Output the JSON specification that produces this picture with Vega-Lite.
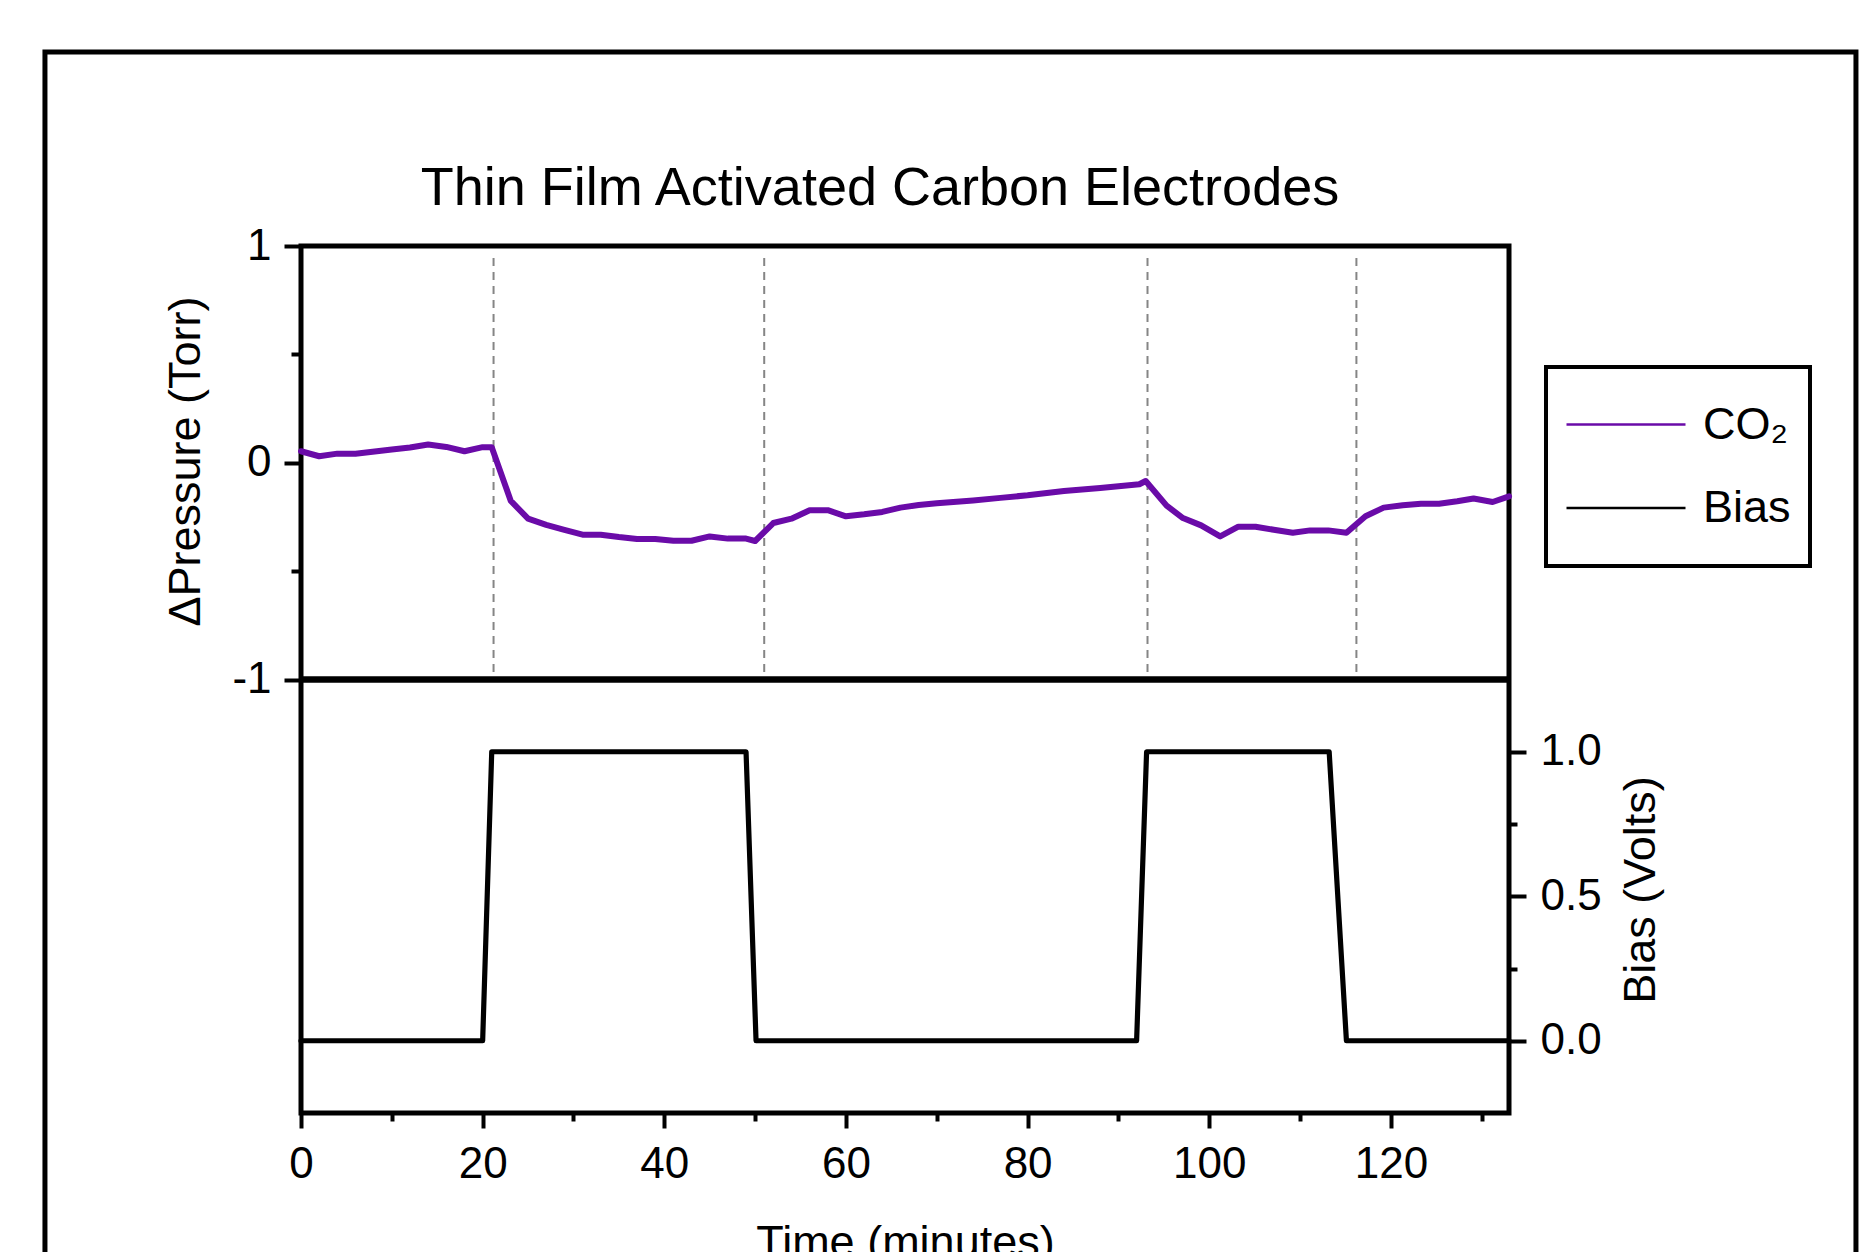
{
  "$schema": "https://vega.github.io/schema/vega-lite/v6.json",
  "autosize": {"type": "none"},
  "padding": {"left": 301, "top": 246, "right": 357, "bottom": 139},
  "width": 1208,
  "height": 867,
  "background": "white",
  "title": {
    "text": "Thin Film Activated Carbon Electrodes",
    "font": "Liberation Sans",
    "fontSize": 54,
    "fontWeight": "normal",
    "color": "black",
    "anchor": "middle",
    "frame": "group",
    "baseline": "alphabetic",
    "dx": -25,
    "offset": -209
  },
  "datasets": {
    "co2": [
      {"t": 0, "v": 0.053}, {"t": 2, "v": 0.03}, {"t": 4, "v": 0.042}, {"t": 6, "v": 0.042},
      {"t": 10, "v": 0.061}, {"t": 12, "v": 0.07}, {"t": 14, "v": 0.084}, {"t": 16, "v": 0.073},
      {"t": 18, "v": 0.053}, {"t": 20, "v": 0.072}, {"t": 21, "v": 0.072}, {"t": 23.1, "v": -0.176},
      {"t": 25, "v": -0.258}, {"t": 27, "v": -0.287}, {"t": 29, "v": -0.31}, {"t": 31, "v": -0.332},
      {"t": 33, "v": -0.332}, {"t": 35, "v": -0.343}, {"t": 37, "v": -0.352}, {"t": 39, "v": -0.352},
      {"t": 41, "v": -0.36}, {"t": 43, "v": -0.36}, {"t": 45, "v": -0.34}, {"t": 47, "v": -0.35},
      {"t": 49, "v": -0.35}, {"t": 50, "v": -0.361}, {"t": 52, "v": -0.278}, {"t": 54, "v": -0.258},
      {"t": 56, "v": -0.219}, {"t": 58, "v": -0.219}, {"t": 60, "v": -0.247}, {"t": 62, "v": -0.238},
      {"t": 64, "v": -0.227}, {"t": 66, "v": -0.207}, {"t": 68, "v": -0.195}, {"t": 70, "v": -0.187},
      {"t": 74, "v": -0.174}, {"t": 77, "v": -0.162}, {"t": 80, "v": -0.15}, {"t": 84, "v": -0.13},
      {"t": 88, "v": -0.116}, {"t": 92.3, "v": -0.099}, {"t": 93, "v": -0.084}, {"t": 95.3, "v": -0.198},
      {"t": 97.1, "v": -0.255}, {"t": 99.1, "v": -0.289}, {"t": 101.2, "v": -0.34}, {"t": 103.2, "v": -0.295},
      {"t": 105.1, "v": -0.295}, {"t": 107.1, "v": -0.309}, {"t": 109.2, "v": -0.323}, {"t": 111.1, "v": -0.312},
      {"t": 113.1, "v": -0.312}, {"t": 115.1, "v": -0.323}, {"t": 117.2, "v": -0.247}, {"t": 119.2, "v": -0.207},
      {"t": 121.3, "v": -0.196}, {"t": 123.3, "v": -0.189}, {"t": 125.3, "v": -0.189}, {"t": 127.3, "v": -0.178},
      {"t": 129.1, "v": -0.165}, {"t": 131.2, "v": -0.181}, {"t": 133, "v": -0.155}
    ],
    "bias": [
      {"t": 0, "v": 0}, {"t": 20, "v": 0}, {"t": 21, "v": 1}, {"t": 49, "v": 1}, {"t": 50.1, "v": 0},
      {"t": 92, "v": 0}, {"t": 93.1, "v": 1}, {"t": 113.2, "v": 1}, {"t": 115.1, "v": 0}, {"t": 133, "v": 0}
    ],
    "switch": [{"t": 21.2}, {"t": 51.0}, {"t": 93.2}, {"t": 116.2}]
  },
  "layer": [
    {
      "data": {"values": [{}]},
      "mark": {"type": "rect", "filled": false, "stroke": "black", "strokeWidth": 5, "clip": false},
      "encoding": {
        "x": {
          "datum": -28.19, "type": "quantitative",
          "scale": {"domain": [0, 133], "nice": false, "zero": false},
          "axis": {
            "orient": "bottom",
            "values": [0, 10, 20, 30, 40, 50, 60, 70, 80, 90, 100, 110, 120, 130],
            "labelExpr": "datum.value % 20 === 0 ? datum.label : ''",
            "tickSize": {"condition": {"test": "datum.value % 20 === 0", "value": 15}, "value": 8},
            "labelPadding": 14,
            "title": "Time (minutes)",
            "titleX": 604,
            "titleY": 143,
            "titleAlign": "center",
            "titleBaseline": "alphabetic"
          }
        },
        "x2": {"datum": 171.2},
        "y": {
          "datum": 1.895, "type": "quantitative",
          "scale": {"domain": [-3, 1], "nice": false, "zero": false},
          "axis": {"title": null, "labels": false, "ticks": false, "domain": false, "grid": false}
        },
        "y2": {"datum": -3.9}
      }
    },
    {
      "data": {"name": "switch"},
      "mark": {"type": "rule", "stroke": "#858585", "strokeWidth": 2, "strokeDash": [8, 6]},
      "encoding": {
        "x": {
          "field": "t", "type": "quantitative",
          "scale": {"domain": [0, 133], "nice": false, "zero": false},
          "axis": {
            "orient": "bottom",
            "values": [0, 10, 20, 30, 40, 50, 60, 70, 80, 90, 100, 110, 120, 130],
            "labelExpr": "datum.value % 20 === 0 ? datum.label : ''",
            "tickSize": {"condition": {"test": "datum.value % 20 === 0", "value": 15}, "value": 8},
            "labelPadding": 14,
            "title": "Time (minutes)",
            "titleX": 604,
            "titleY": 143,
            "titleAlign": "center",
            "titleBaseline": "alphabetic"
          }
        },
        "y": {
          "datum": 0.945, "type": "quantitative",
          "scale": {"domain": [-3, 1], "nice": false, "zero": false},
          "axis": {"title": null, "labels": false, "ticks": false, "domain": false, "grid": false}
        },
        "y2": {"datum": -0.97}
      }
    },
    {
      "data": {"values": [{}]},
      "mark": {"type": "rule", "stroke": "black", "strokeWidth": 6.5},
      "encoding": {
        "y": {
          "datum": -1, "type": "quantitative",
          "scale": {"domain": [-3, 1], "nice": false, "zero": false},
          "axis": {"title": null, "labels": false, "ticks": false, "domain": false, "grid": false}
        }
      }
    },
    {
      "data": {"name": "co2"},
      "mark": {"type": "line", "strokeWidth": 6, "strokeJoin": "round", "strokeCap": "round"},
      "encoding": {
        "x": {
          "field": "t", "type": "quantitative",
          "scale": {"domain": [0, 133], "nice": false, "zero": false},
          "axis": {
            "orient": "bottom",
            "values": [0, 10, 20, 30, 40, 50, 60, 70, 80, 90, 100, 110, 120, 130],
            "labelExpr": "datum.value % 20 === 0 ? datum.label : ''",
            "tickSize": {"condition": {"test": "datum.value % 20 === 0", "value": 15}, "value": 8},
            "labelPadding": 14,
            "title": "Time (minutes)",
            "titleX": 604,
            "titleY": 143,
            "titleAlign": "center",
            "titleBaseline": "alphabetic"
          }
        },
        "y": {
          "field": "v", "type": "quantitative",
          "scale": {"domain": [-3, 1], "nice": false, "zero": false},
          "axis": {
            "orient": "left",
            "values": [-1, -0.5, 0, 0.5, 1],
            "labelExpr": "datum.value === 1 ? '1' : datum.value === 0 ? '0' : datum.value === -1 ? '-1' : ''",
            "tickSize": {"condition": {"test": "datum.value % 1 === 0", "value": 17}, "value": 10},
            "labelPadding": 13,
            "title": "ΔPressure (Torr)",
            "titleAngle": 270,
            "titleX": -102,
            "titleY": 215,
            "titleAlign": "center",
            "titleBaseline": "alphabetic"
          }
        },
        "color": {
          "datum": "CO₂", "type": "nominal",
          "scale": {"domain": ["CO₂", "Bias"], "range": ["#6a0ba8", "#000000"]},
          "legend": {
            "title": null,
            "orient": "none",
            "legendX": 1245,
            "legendY": 121,
            "padding": 19,
            "strokeColor": "black",
            "symbolType": "stroke",
            "symbolSize": 14161,
            "symbolStrokeWidth": 2.5,
            "labelFont": "Liberation Sans",
            "labelFontSize": 45,
            "labelColor": "black",
            "labelOffset": 16,
            "clipHeight": 77,
            "rowPadding": 6.5
          }
        }
      }
    },
    {
      "data": {"name": "bias"},
      "mark": {"type": "line", "strokeWidth": 5.2, "strokeJoin": "round", "strokeCap": "round"},
      "encoding": {
        "x": {
          "field": "t", "type": "quantitative",
          "scale": {"domain": [0, 133], "nice": false, "zero": false},
          "axis": {
            "orient": "bottom",
            "values": [0, 10, 20, 30, 40, 50, 60, 70, 80, 90, 100, 110, 120, 130],
            "labelExpr": "datum.value % 20 === 0 ? datum.label : ''",
            "tickSize": {"condition": {"test": "datum.value % 20 === 0", "value": 15}, "value": 8},
            "labelPadding": 14,
            "title": "Time (minutes)",
            "titleX": 604,
            "titleY": 143,
            "titleAlign": "center",
            "titleBaseline": "alphabetic"
          }
        },
        "y": {
          "field": "v", "type": "quantitative",
          "scale": {"domain": [-0.25, 2.75], "nice": false, "zero": false},
          "axis": {
            "orient": "right",
            "values": [0, 0.25, 0.5, 0.75, 1],
            "labelExpr": "datum.value === 0 ? '0.0' : datum.value === 0.5 ? '0.5' : datum.value === 1 ? '1.0' : ''",
            "tickSize": {"condition": {"test": "datum.value % 0.5 === 0", "value": 17}, "value": 8},
            "labelPadding": 14,
            "title": "Bias (Volts)",
            "titleAngle": 270,
            "titleX": 145.5,
            "titleY": 643.5,
            "titleAlign": "center",
            "titleBaseline": "alphabetic"
          }
        },
        "color": {
          "datum": "Bias", "type": "nominal",
          "scale": {"domain": ["CO₂", "Bias"], "range": ["#6a0ba8", "#000000"]}
        }
      }
    }
  ],
  "resolve": {"scale": {"y": "independent"}},
  "config": {
    "view": {"stroke": "black", "strokeWidth": 5},
    "axis": {
      "domain": false,
      "grid": false,
      "labelFont": "Liberation Sans",
      "labelFontSize": 44,
      "labelColor": "black",
      "tickColor": "black",
      "tickWidth": 4,
      "titleFont": "Liberation Sans",
      "titleFontSize": 45,
      "titleFontWeight": "normal",
      "titleColor": "black",
      "labelFlush": false,
      "labelOverlap": false,
      "labelBound": false
    },
    "legend": {"strokeColor": "black", "strokeWidth": 4, "cornerRadius": 0}
  }
}
